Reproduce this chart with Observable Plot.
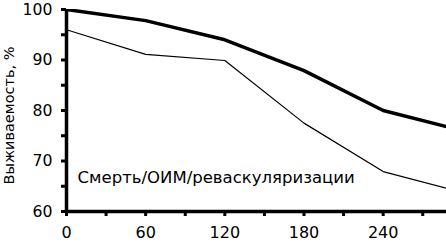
<!DOCTYPE html>
<html><head><meta charset="utf-8">
<script src="https://cdn.jsdelivr.net/npm/d3@7"></script>
<script src="https://cdn.jsdelivr.net/npm/@observablehq/plot@0.6"></script>
<style>body{margin:0;background:#fff}</style>
</head><body><div id="chart"></div>
<script>
const days = [0, 60, 120, 180, 240, 288];
const survivalA = [100, 97.8, 94, 87.9, 80, 76.8];
const survivalB = [96, 91.1, 89.9, 77.5, 67.9, 64.6];
const xTicks = [0, 60, 120, 180, 240];
const yTicks = [60, 70, 80, 90, 100];
const yLabel = "Выживаемость, %";
const note = [{x: 8.4, y: 66.6, text: "Смерть/ОИМ/реваскуляризации"}];

const A = days.map((d, i) => ({x: d, y: survivalA[i]}));
const B = days.map((d, i) => ({x: d, y: survivalB[i]}));
const font = "DejaVu Sans, sans-serif";

const chart = Plot.plot({
  width: 446, height: 246,
  marginLeft: 66, marginRight: 0, marginTop: 9, marginBottom: 35,
  style: {fontFamily: font, fontSize: "15px", color: "#000", background: "#fff"},
  x: {domain: [0, 288]},
  y: {domain: [60, 100]},
  marks: [
    Plot.line(B, {x: "x", y: "y", stroke: "#000", strokeWidth: 1.2, clip: true}),
    Plot.line(A, {x: "x", y: "y", stroke: "#000", strokeWidth: 3.5, clip: true}),
    Plot.axisX({ticks: d3.range(0, 290, 30), tickSize: 5, strokeWidth: 3, text: null, label: null}),
    Plot.axisX({ticks: xTicks, tickSize: 0, tickPadding: 15, label: null, fontSize: 16}),
    Plot.axisY({ticks: d3.range(60, 101, 5), tickSize: 5, strokeWidth: 3, text: null, label: null}),
    Plot.axisY({ticks: yTicks, tickSize: 0, tickPadding: 14, label: null, fontSize: 15.7}),
    Plot.ruleX([0], {strokeWidth: 3.5}),
    Plot.ruleY([60], {strokeWidth: 3.5}),
    Plot.text([yLabel], {frameAnchor: "left", textAnchor: "middle", rotate: -90, dx: -57, dy: 5, fontSize: 14.5}),
    Plot.text(note, {x: "x", y: "y", text: "text", textAnchor: "start", fontSize: 16.5})
  ]
});
document.getElementById("chart").appendChild(chart);
</script>
</body></html>
